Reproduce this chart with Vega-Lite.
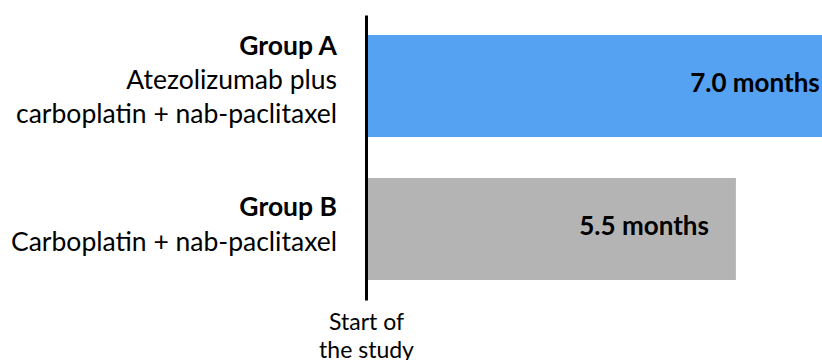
{
  "$schema": "https://vega.github.io/schema/vega-lite/v6.json",
  "width": 456,
  "height": 285,
  "autosize": "none",
  "padding": {"left": 366, "top": 15, "right": 0, "bottom": 60},
  "config": {"view": {"stroke": null}, "font": "Lato"},
  "data": {
    "values": [
      {"group": "A", "name": ["Group A", "", ""], "desc": ["", "Atezolizumab plus", "carboplatin + nab-paclitaxel"], "months": 7.0, "label": "7.0 months"},
      {"group": "B", "name": ["Group B", ""], "desc": ["", "Carboplatin + nab-paclitaxel"], "months": 5.5, "label": "5.5 months"}
    ]
  },
  "encoding": {
    "y": {
      "field": "group",
      "type": "nominal",
      "scale": {"paddingInner": 0.2867, "paddingOuter": 0.14},
      "axis": {"domain": true, "domainColor": "black", "domainWidth": 3, "ticks": false, "labels": false, "title": null, "zindex": 1}
    }
  },
  "layer": [
    {
      "mark": {"type": "bar", "clip": true},
      "encoding": {
        "x": {
          "field": "months",
          "type": "quantitative",
          "scale": {"domain": [0, 6.78], "nice": false, "zero": true},
          "axis": {"domain": false, "ticks": false, "labels": false, "grid": false, "title": ["Start of", "the study"], "titleX": 0, "titleY": 29, "titleAlign": "center", "titleBaseline": "alphabetic", "titleFontSize": 23, "titleFontWeight": "normal", "titleColor": "black", "titleLineHeight": 28}
        },
        "color": {"field": "group", "type": "nominal", "scale": {"domain": ["A", "B"], "range": ["#55A1F2", "#B4B4B4"]}, "legend": null}
      }
    },
    {
      "transform": [{"filter": "datum.group === 'A'"}],
      "mark": {"type": "text", "align": "right", "baseline": "middle", "dx": -17, "dy": -2, "fontSize": 26, "fontWeight": "bold", "color": "black"},
      "encoding": {"x": {"field": "months", "type": "quantitative"}, "text": {"field": "label"}}
    },
    {
      "transform": [{"filter": "datum.group === 'B'"}],
      "mark": {"type": "text", "align": "right", "baseline": "middle", "dx": -27, "dy": -2, "fontSize": 26, "fontWeight": "bold", "color": "black"},
      "encoding": {"x": {"field": "months", "type": "quantitative"}, "text": {"field": "label"}}
    },
    {
      "transform": [{"filter": "datum.group === 'A'"}],
      "mark": {"type": "text", "align": "right", "baseline": "middle", "dx": -29, "dy": -39, "fontSize": 26.5, "lineHeight": 34, "fontWeight": "bold", "color": "black"},
      "encoding": {"x": {"datum": 0, "type": "quantitative"}, "text": {"field": "name"}}
    },
    {
      "transform": [{"filter": "datum.group === 'A'"}],
      "mark": {"type": "text", "align": "right", "baseline": "middle", "dx": -29, "dy": -39, "fontSize": 26.5, "lineHeight": 34, "fontWeight": "normal", "color": "black"},
      "encoding": {"x": {"datum": 0, "type": "quantitative"}, "text": {"field": "desc"}}
    },
    {
      "transform": [{"filter": "datum.group === 'B'"}],
      "mark": {"type": "text", "align": "right", "baseline": "middle", "dx": -29, "dy": -21, "fontSize": 26.5, "lineHeight": 35, "fontWeight": "bold", "color": "black"},
      "encoding": {"x": {"datum": 0, "type": "quantitative"}, "text": {"field": "name"}}
    },
    {
      "transform": [{"filter": "datum.group === 'B'"}],
      "mark": {"type": "text", "align": "right", "baseline": "middle", "dx": -29, "dy": -21, "fontSize": 26.5, "lineHeight": 35, "fontWeight": "normal", "color": "black"},
      "encoding": {"x": {"datum": 0, "type": "quantitative"}, "text": {"field": "desc"}}
    }
  ]
}
